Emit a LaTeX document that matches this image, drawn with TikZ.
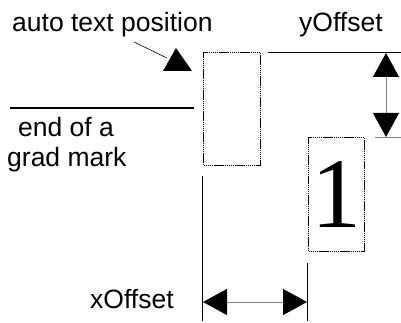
\documentclass[tikz,border=0pt]{standalone}
\usepackage{fontspec}
\setmainfont{Liberation Sans}
\newfontfamily\digitfont{Liberation Serif}
\usetikzlibrary{arrows.meta, positioning}

\begin{document}
\begin{tikzpicture}[x=1pt, y=-1pt,
    every node/.style={inner sep=0pt, font=\fontsize{26.5}{30}\selectfont},
    txtbox/.style={draw, line width=1.8pt, dash pattern=on 1.5pt off 0.6pt, minimum width=#1},
    dimline/.style={line width=0.8pt},
    dimarrow/.style={gray, line width=0.9pt, {Triangle[length=24pt,width=26pt,black]}-{Triangle[length=24pt,width=26pt,black]}}]
  \useasboundingbox (0,0) rectangle (401,323);

  % Grad mark and its caption
  \coordinate (markL) at (10,108);
  \coordinate (markR) at (194,108);
  \draw[line width=2.4pt] (markL) -- (markR);
  \node[anchor=base west] (endof) at (18,137) {end of a};
  \node[anchor=base west] (gradmark) at (7,167) {grad mark};

  % Box at the automatic text position
  \node[txtbox=57pt, minimum height=113pt] (autobox) at (232,109) {};
  \node[anchor=base west] (autolbl) at (12,32) {auto text position};
  \coordinate (tipA) at (176,48);
  \fill (tipA) -- (192,71) -- (163,71) -- cycle;
  \draw[line width=0.6pt] (134,42) -- (167,58);

  % Shifted box holding the label
  \node[txtbox=56pt, minimum height=114pt, font=\digitfont\fontsize{100}{100}\selectfont] (labelbox) at (336.5,194.5) {1};

  % yOffset dimension
  \node[anchor=base west] (ylbl) at (299,32) {yOffset};
  \coordinate (yTopL) at (268,52);
  \coordinate (yTopR) at (401,52);
  \coordinate (yBotL) at (375,137);
  \coordinate (yBotR) at (401,137);
  \draw[dimline] (yTopL) -- (yTopR);
  \draw[dimline, gray] (yBotL) -- (yBotR);
  \draw[dimarrow] (386,53) -- (386,137);

  % xOffset dimension
  \node[anchor=base west] (xlbl) at (90,308) {xOffset};
  \draw[dimline] (202,176) -- (202,321);
  \draw[dimline] (307,263) -- (307,321);
  \draw[dimarrow] (203,302) -- (307,302);
\end{tikzpicture}
\end{document}
